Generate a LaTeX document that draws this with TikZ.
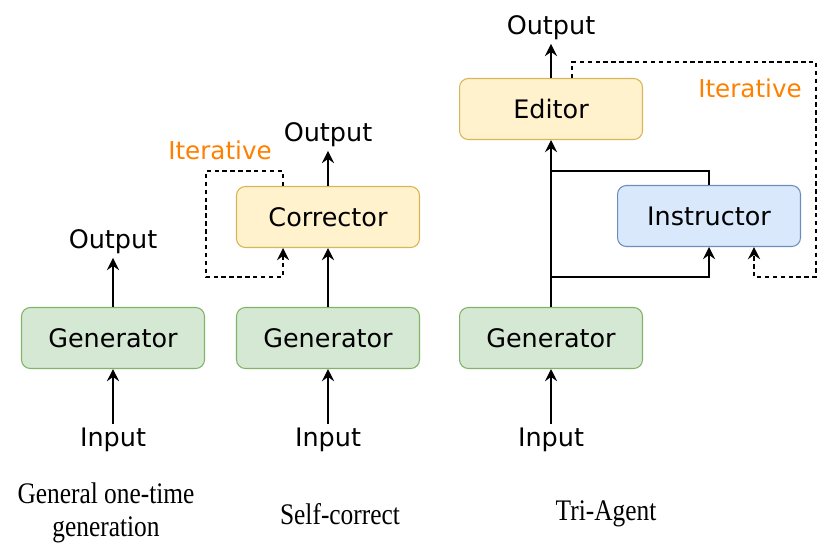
\documentclass[tikz,border=0pt]{standalone}
\usepackage{fontspec}
\setmainfont{Liberation Serif}
\newfontfamily\boxfont{DejaVu Sans}
\newfontfamily\capfont[FakeStretch=0.85]{Liberation Serif}
\usetikzlibrary{arrows.meta, calc}
\definecolor{mygreen}{HTML}{D5E8D4}
\definecolor{mygreenline}{HTML}{82B366}
\definecolor{myyellow}{HTML}{FFF2CC}
\definecolor{myyellowline}{HTML}{D6B656}
\definecolor{myblue}{HTML}{DAE8FC}
\definecolor{myblueline}{HTML}{6C8EBF}
\definecolor{myorange}{HTML}{FF8000}

\tikzset{
  agent/.style={draw, rounded corners=5pt, minimum width=3.66cm, minimum height=1.22cm,
    line width=0.6pt, font=\boxfont\fontsize{14.5}{16}\selectfont},
  io/.style={font=\boxfont\fontsize{14.5}{16}\selectfont, inner sep=2pt},
  iter/.style={text=myorange, font=\boxfont\fontsize{14}{16}\selectfont},
  caption/.style={font=\capfont\fontsize{17}{19}\selectfont, align=center},
  flow/.style={-{Stealth[length=7pt, width=7pt, inset=2.5pt]}, line width=0.7pt},
  iterflow/.style={flow, dash pattern=on 2.5pt off 2pt}
}

\begin{document}
\begin{tikzpicture}[x=0.02cm, y=-0.02cm]
    \useasboundingbox (0,0) rectangle (830,551);

    % general one-time generation
    \node[agent, fill=mygreen, draw=mygreenline] (gen1) at (113,338) {Generator};
    \node[io] (out1) at (113,242) {Output};
    \node[io] (in1) at (113,440) {Input};
    \draw[flow] (in1) -- (gen1.south);
    \draw[flow] (gen1.north) -- (out1);
    \node[caption] (cap1) at (106,513) {General one-time\\generation};

    % self-correct
    \node[agent, fill=mygreen, draw=mygreenline] (gen2) at (328,338) {Generator};
    \node[agent, fill=myyellow, draw=myyellowline] (corr) at (328,217) {Corrector};
    \node[io] (out2) at (328,135) {Output};
    \node[io] (in2) at (328,440) {Input};
    \draw[flow] (in2) -- (gen2.south);
    \draw[flow] (gen2.north) -- (corr.south);
    \draw[flow] (corr.north) -- (out2);
    \draw[iterflow] ([xshift=-0.9cm]corr.north) -- ++(0,-15) -| (206,277) -| ([xshift=-0.9cm]corr.south);
    \node[iter] (iter1) at (220,150) {Iterative};
    \node[caption] (cap2) at (340,514) {Self-correct};

    % tri-agent
    \node[agent, fill=mygreen, draw=mygreenline] (gen3) at (551,338) {Generator};
    \node[agent, fill=myyellow, draw=myyellowline] (edit) at (551,109) {Editor};
    \node[agent, fill=myblue, draw=myblueline] (instr) at (709,216) {Instructor};
    \node[io] (out3) at (551,28) {Output};
    \node[io] (in3) at (551,440) {Input};
    \coordinate (split) at (551,277);
    \coordinate (merge) at (551,171);
    \draw[flow] (in3) -- (gen3.south);
    \draw[flow] (gen3.north) -- (edit.south);
    \draw[flow] (edit.north) -- (out3);
    \draw[flow] (split) -| (instr.south);
    \draw[line width=0.7pt] (instr.north) |- (merge);
    \draw[iterflow] ([xshift=0.42cm]edit.north) -- ++(0,-16) -| (816,277) -| ([xshift=0.9cm]instr.south);
    \node[iter] (iter2) at (750,88) {Iterative};
    \node[caption] (cap3) at (606,514) {Tri-Agent};
\end{tikzpicture}
\end{document}
